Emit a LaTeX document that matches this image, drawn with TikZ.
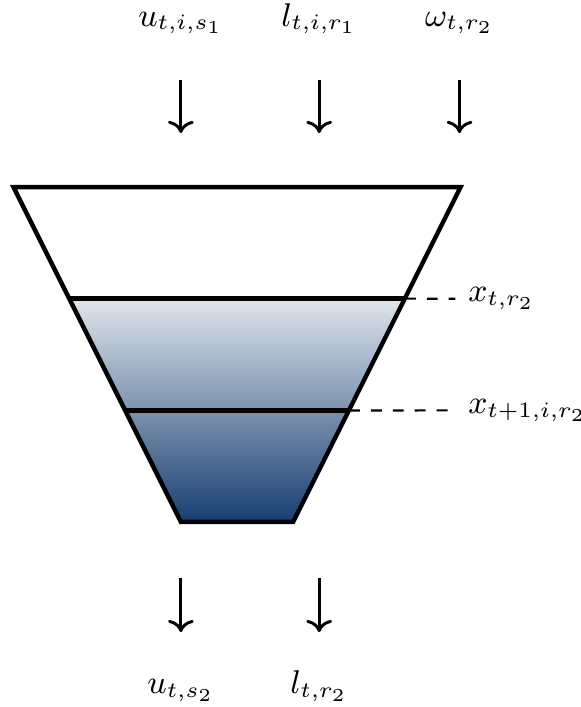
\documentclass[tikz,border=0pt]{standalone}
\usepackage{tikz}
\usetikzlibrary{arrows.meta, positioning, calc}
\definecolor{Ink}{HTML}{000000}
\definecolor{ShallowBlue}{HTML}{DFE5EC}
\definecolor{DeepBlue}{HTML}{173F70}

\begin{document}
\begin{tikzpicture}[x=1cm, y=1cm, font=\small,
        tank/.style={draw=Ink, line width=1.2pt},
        flow/.style={Ink, ->, thick},
        level/.style={Ink, dashed, semithick}]
    \useasboundingbox (-2.28, -1.78) rectangle (3.30, 5.02);

    % Reservoir
    \coordinate (tl) at (-2.15, 3.22);
    \coordinate (tr) at (2.15, 3.22);
    \coordinate (bl) at (-0.54, 0);
    \coordinate (br) at (0.54, 0);
    \coordinate (hl) at ($(bl)!0.667!(tl)$);
    \coordinate (hr) at ($(br)!0.667!(tr)$);
    \coordinate (ml) at ($(bl)!0.333!(tl)$);
    \coordinate (mr) at ($(br)!0.333!(tr)$);
    \shade[top color=ShallowBlue, bottom color=DeepBlue] (bl) -- (br) -- (hr) -- (hl) -- cycle;
    \draw[tank] (tl) -- (bl) -- (br) -- (tr) -- cycle;
    \draw[tank] (hl) -- (hr);
    \draw[tank] (ml) -- (mr);

    % Storage levels
    \node[anchor=west] (lvl1) at (2.1, 2.147) {$x_{t,r_2}$};
    \node[anchor=west] (lvl2) at (2.1, 1.073) {$x_{t+1,i,r_2}$};
    \draw[level] (hr) -- (lvl1.west);
    \draw[level] (mr) -- (lvl2.west);

    % Inflows
    \foreach \i/\x/\lab in {1/-0.54/{u_{t,i,s_1}}, 2/0.79/{l_{t,i,r_1}}, 3/2.14/{\omega_{t,r_2}}} {
        \node[anchor=base] (in\i) at (\x, 4.77) {$\lab$};
        \coordinate (ia\i) at (\x, 4.25);
        \coordinate (ib\i) at (\x, 3.74);
        \draw[flow] (ia\i) -- (ib\i);
    }

    % Outflows
    \foreach \i/\x/\lab in {1/-0.54/{u_{t,s_2}}, 2/0.79/{l_{t,r_2}}} {
        \coordinate (oa\i) at (\x, -0.54);
        \coordinate (ob\i) at (\x, -1.06);
        \draw[flow] (oa\i) -- (ob\i);
        \node[anchor=base] (out\i) at (\x, -1.65) {$\lab$};
    }
\end{tikzpicture}
\end{document}
